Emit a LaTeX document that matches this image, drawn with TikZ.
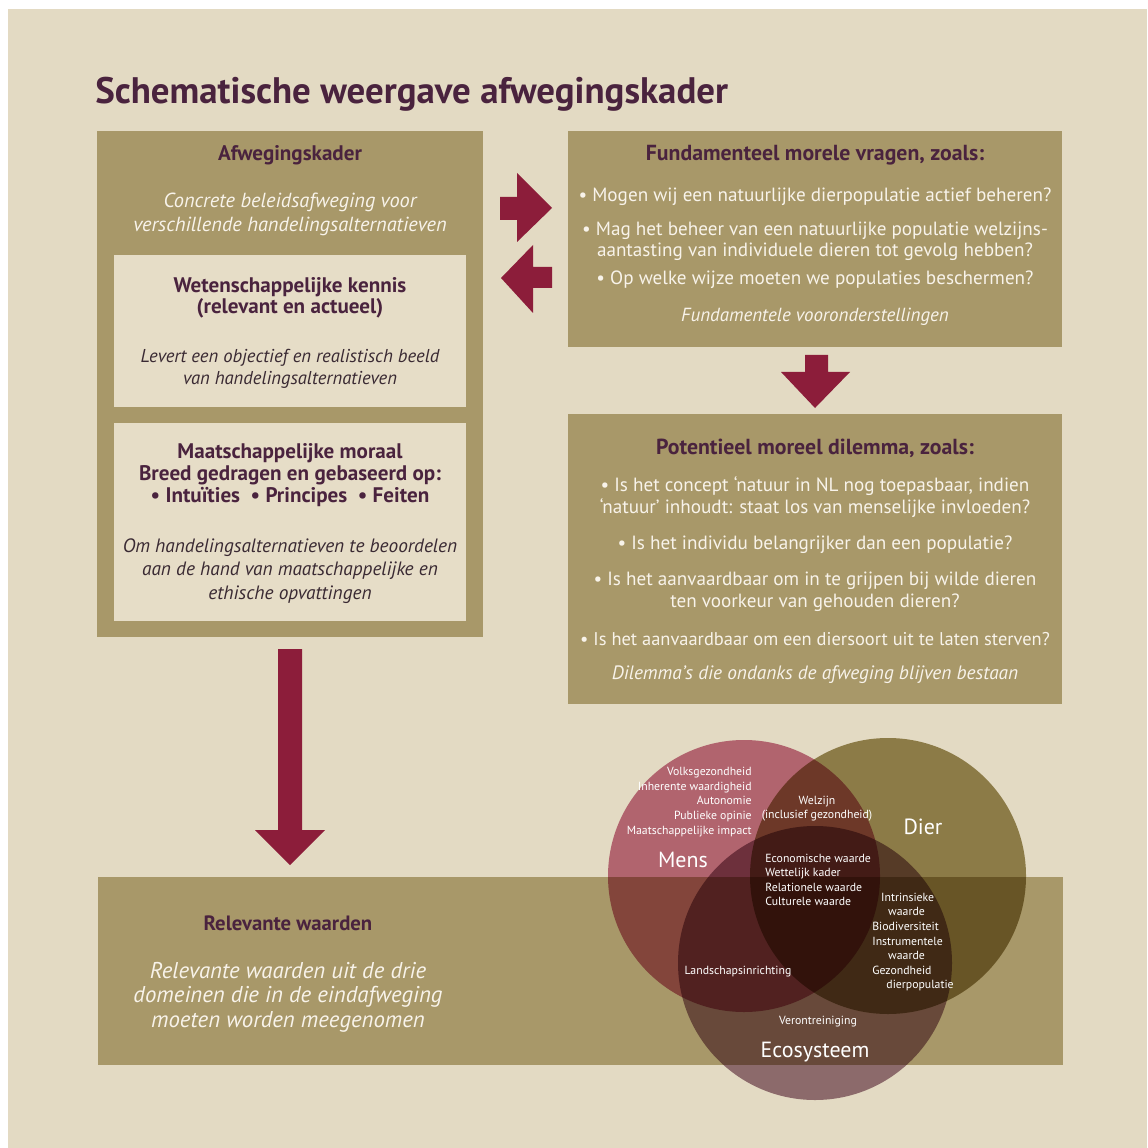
\documentclass[tikz,border=0pt]{standalone}
\usepackage{fontspec}
\setmainfont{PT Sans}
\definecolor{bgbeige}{HTML}{E3DAC3}
\definecolor{olive}{HTML}{A89869}
\definecolor{lightbox}{HTML}{E6DDC7}
\definecolor{plum}{HTML}{4A233E}
\definecolor{darktxt}{HTML}{3A2A33}
\definecolor{cream}{HTML}{F8F3EA}
\definecolor{arrowred}{HTML}{8C1D3A}
\definecolor{mensc}{HTML}{C77590}
\definecolor{dierc}{HTML}{9E905E}
\definecolor{ecoc}{HTML}{9E7C8D}
\tikzset{
  olivebox/.style={fill=olive},
  lightpanel/.style={fill=lightbox},
  blockarrow/.style={fill=arrowred},
  headtxt/.style={inner sep=0pt, text=plum, align=center, font=\bfseries\fontsize{12}{12.5}\selectfont},
  whiteital/.style={inner sep=0pt, text=cream, align=center, font=\itshape\fontsize{11.6}{13.6}\selectfont},
  darkital/.style={inner sep=0pt, text=darktxt, align=center, font=\itshape\fontsize{10.8}{12.8}\selectfont},
  bullettxt/.style={inner sep=0pt, text=cream, align=center, font=\fontsize{10.9}{12}\selectfont},
  venncircle/.style={blend mode=multiply},
  vennsmall/.style={inner sep=0pt, text=white, font=\fontsize{6.7}{8.3}\selectfont},
  vennbig/.style={inner sep=0pt, text=white, font=\fontsize{12.5}{14}\selectfont},
}
\begin{document}
\begin{tikzpicture}[x=0.02cm,y=-0.02cm]
\useasboundingbox (0,0) rectangle (1147,1148);
\fill[white] (0,0) rectangle (1147,1148);
\fill[bgbeige] (8,9) rectangle (1147,1148);

% title
\node[anchor=base west, inner sep=0pt, text=plum, font=\bfseries\fontsize{21}{23}\selectfont] (title) at (95,104) {Schematische weergave afwegingskader};

% left big box
\fill[olivebox] (97,131) rectangle (483,637);
\fill[lightpanel] (114,255) rectangle (466,407);
\fill[lightpanel] (114,423) rectangle (466,621);
\node[headtxt] (afhead) at (290,155) {Afwegingskader};
\node[whiteital] (afsub) at (290,214) {Concrete beleidsafweging voor\\verschillende handelingsalternatieven};
\node[headtxt, font=\bfseries\fontsize{12}{11.9}\selectfont] (wethead) at (290,297.5) {Wetenschappelijke kennis\\(relevant en actueel)};
\node[darkital, font=\itshape\fontsize{10.6}{12.5}\selectfont] (wetsub) at (290,369) {Levert een objectief en realistisch beeld\\van handelingsalternatieven};
\node[headtxt, font=\bfseries\fontsize{12}{12.5}\selectfont] (morhead) at (290,475) {Maatschappelijke moraal\\Breed gedragen en gebaseerd op:\\• Intuïties\enspace • Principes\enspace • Feiten};
\node[darkital, font=\itshape\fontsize{11}{13.5}\selectfont] (morsub) at (290,571) {Om handelingsalternatieven te beoordelen\\aan de hand van maatschappelijke en\\ethische opvattingen};

% right top box
\fill[olivebox] (568,131) rectangle (1062,347);
\node[headtxt, font=\bfseries\fontsize{12.4}{12.5}\selectfont] (fundhead) at (815,155) {Fundamenteel morele vragen, zoals:};
\node[bullettxt] (fq1) at (815,197) {• Mogen wij een natuurlijke dierpopulatie actief beheren?};
\node[bullettxt] (fq2) at (815,241.5) {• Mag het beheer van een natuurlijke populatie welzijns-\\aantasting van individuele dieren tot gevolg hebben?};
\node[bullettxt] (fq3) at (815,280) {• Op welke wijze moeten we populaties beschermen?};
\node[whiteital, font=\itshape\fontsize{10.8}{12}\selectfont] (fundsub) at (815,317) {Fundamentele vooronderstellingen};

% right lower box
\fill[olivebox] (568,414) rectangle (1062,704);
\node[headtxt, font=\bfseries\fontsize{12.4}{12.5}\selectfont] (dilhead) at (815,448) {Potentieel moreel dilemma, zoals:};
\node[bullettxt, font=\fontsize{10.9}{12.5}\selectfont] (dq1) at (815,497) {• Is het concept ‘natuur in NL nog toepasbaar, indien\\‘natuur’ inhoudt: staat los van menselijke invloeden?};
\node[bullettxt] (dq2) at (815,545) {• Is het individu belangrijker dan een populatie?};
\node[bullettxt, font=\fontsize{10.9}{12.8}\selectfont] (dq3) at (815,591.5) {• Is het aanvaardbaar om in te grijpen bij wilde dieren\\ten voorkeur van gehouden dieren?};
\node[bullettxt, font=\fontsize{10.5}{11.6}\selectfont] (dq4) at (815,639) {• Is het aanvaardbaar om een diersoort uit te laten sterven?};
\node[whiteital, font=\itshape\fontsize{11}{12}\selectfont] (dilsub) at (815,675) {Dilemma’s die ondanks de afweging blijven bestaan};

% block arrows
\fill[blockarrow] (500,197) -- (517,197) -- (517,173) -- (552,208) -- (517,242) -- (517,220) -- (500,220) -- cycle;
\fill[blockarrow] (552,267) -- (533,267) -- (533,245) -- (501,278) -- (533,313) -- (533,288) -- (552,288) -- cycle;
\fill[blockarrow] (805,355) -- (828,355) -- (828,372) -- (850,372) -- (815,408) -- (781,372) -- (805,372) -- cycle;
\fill[blockarrow] (278,649) -- (302,649) -- (302,830) -- (325,830) -- (290,865) -- (255,830) -- (278,830) -- cycle;

% bottom box
\fill[olivebox] (98,877) rectangle (1063,1065);
\node[headtxt, font=\bfseries\fontsize{11.8}{12.5}\selectfont] (relhead) at (288,923) {Relevante waarden};
\node[whiteital, font=\itshape\fontsize{13}{14}\selectfont] (relsub) at (288,997) {Relevante waarden uit de drie\\domeinen die in de eindafweging\\moeten worden meegenomen};

% Venn diagram
\fill[venncircle, mensc] (744,876) circle (136);
\fill[venncircle, dierc] (888,876) circle (138);
\fill[venncircle, ecoc] (815,963) circle (137);

\node[vennsmall, align=right, anchor=east] (menslist) at (752,802) {Volksgezondheid\\Inherente waardigheid\\Autonomie\\Publieke opinie\\Maatschappelijke impact};
\node[vennbig] (mens) at (683,860) {Mens};
\node[vennsmall, align=center, font=\fontsize{6.7}{7.9}\selectfont] (welzijn) at (817,809) {Welzijn\\(inclusief gezondheid)};
\node[vennbig] (dier) at (923,827) {Dier};
\node[vennsmall, align=left, anchor=west] (central) at (765,880) {Economische waarde\\Wettelijk kader\\Relationele waarde\\Culturele waarde};
\node[vennsmall, align=left, anchor=west] (dierEco) at (872,942) {\hspace*{5pt}Intrinsieke\\\hspace*{9pt}waarde\\Biodiversiteit\\Instrumentele\\\hspace*{9pt}waarde\\Gezondheid\\\hspace*{8pt}dierpopulatie};
\node[vennsmall] (landschap) at (738,972) {Landschapsinrichting};
\node[vennsmall] (veront) at (818,1022) {Verontreiniging};
\node[vennbig] (eco) at (815,1052) {Ecosysteem};
\end{tikzpicture}
\end{document}
